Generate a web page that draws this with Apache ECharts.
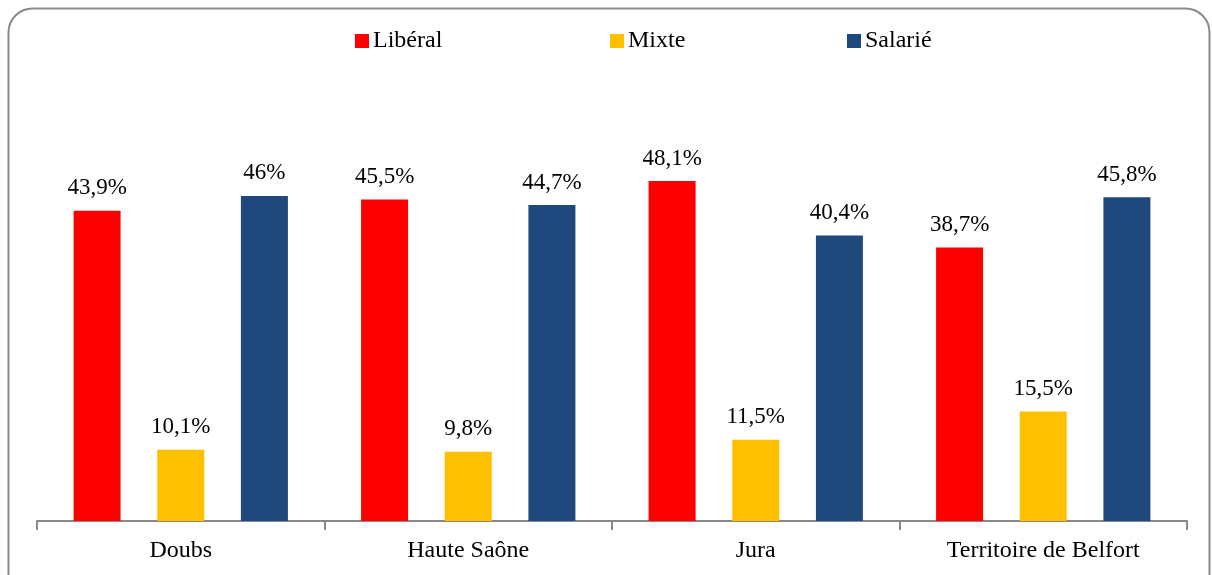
<!DOCTYPE html>
<html>
<head>
<meta charset="utf-8">
<script src="https://cdn.jsdelivr.net/npm/echarts@6/dist/echarts.min.js"></script>
<style>
  html, body { margin: 0; padding: 0; background: #fff; }
  #chart { width: 1212px; height: 575px; }
</style>
</head>
<body>
<div id="chart"></div>
<script>
// departements
const categories = ['Doubs', 'Haute Saône', 'Jura', 'Territoire de Belfort']
// part (%) par mode d'exercice
const liberal = [43.9, 45.5, 48.1, 38.7]
const mixte = [10.1, 9.8, 11.5, 15.5]
const salarie = [46, 44.7, 40.4, 45.8]

const seriesNames = ['Libéral', 'Mixte', 'Salarié']
const colors = ['#ff0000', '#ffc000', '#1f497d']

const font = '"Liberation Serif", "DejaVu Serif", serif'

let chart = echarts.init(document.getElementById('chart'))

function fmt(p) {
    return String(p.value).replace('.', ',') + '%'
}

function makeSeries(name, data, color) {
    return {
        name: name,
        type: 'bar',
        data: data,
        barWidth: 47,
        barGap: '78%',
        itemStyle: { color: color },
        label: {
            show: true,
            position: 'top',
            distance: 11,
            formatter: fmt,
            color: '#000',
            fontFamily: font,
            fontSize: 23
        }
    }
}

// one legend per item, so each one sits where the original has it
let legendLefts = [355, 610, 847]
let legends = seriesNames.map((n, i) => ({
    data: [n],
    left: legendLefts[i],
    top: 29,
    padding: 0,
    itemWidth: 14,
    itemHeight: 14,
    itemGap: 0,
    icon: 'rect',
    textStyle: { fontFamily: font, fontSize: 24, color: '#000', padding: [0, 0, 0, -1] }
}))

chart.setOption({
    animation: false,
    color: colors,
    legend: legends,
    grid: {
        left: 37,
        right: 25,
        top: 97,
        bottom: 54
    },
    xAxis: {
        type: 'category',
        data: categories,
        axisLine: { lineStyle: { color: '#888', width: 2 } },
        axisTick: { show: true, length: 9, lineStyle: { color: '#888', width: 2 } },
        axisLabel: { color: '#000', fontFamily: font, fontSize: 24, margin: 18 }
    },
    yAxis: {
        type: 'value',
        min: 0,
        max: 60,
        show: false
    },
    graphic: [{
        type: 'rect',
        left: 6,
        top: 6,
        shape: { width: 1201, height: 600, r: 24 },
        style: { fill: 'none', stroke: '#8a8a8a', lineWidth: 2 },
        silent: true
    }],
    series: [
        makeSeries(seriesNames[0], liberal, colors[0]),
        makeSeries(seriesNames[1], mixte, colors[1]),
        makeSeries(seriesNames[2], salarie, colors[2])
    ]
})
</script>
</body>
</html>
